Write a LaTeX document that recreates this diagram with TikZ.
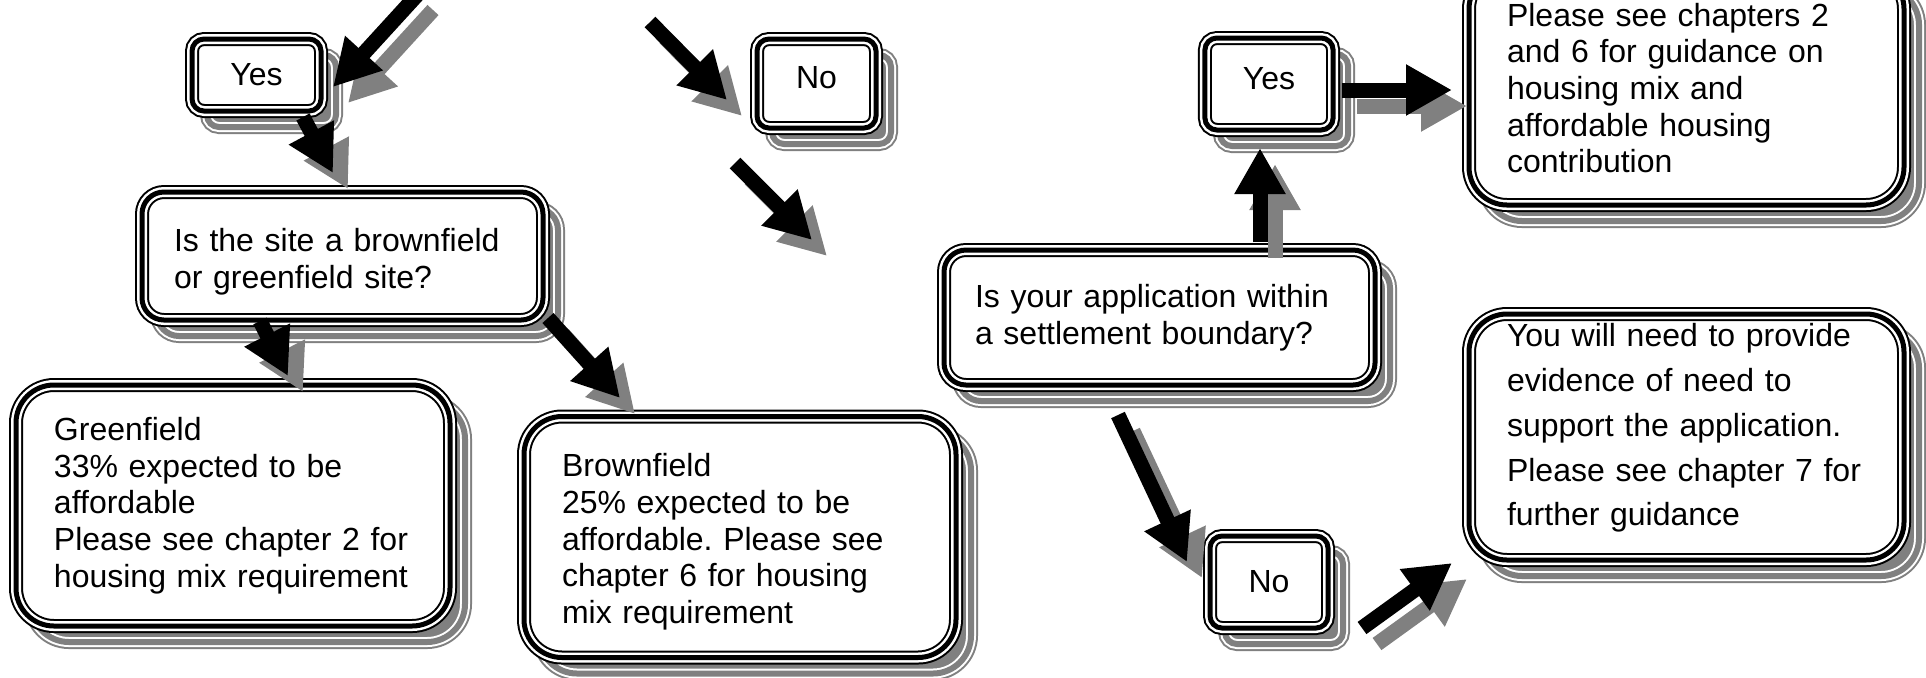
\documentclass[tikz,border=0pt]{standalone}
\usepackage{fontspec}
\setmainfont{Liberation Sans}
\frenchspacing
\usetikzlibrary{arrows.meta}

\tikzset{
  panel/.style={rectangle, rounded corners=#1, align=left, inner xsep=19pt, inner ysep=0pt,
    font=\fontsize{16pt}{18.35pt}\selectfont,
    preaction={fill=gray, draw=gray, line width=7pt, transform canvas={shift={(7.5pt,-8pt)}}},
    preaction={draw=white, line width=5pt, transform canvas={shift={(7.5pt,-8pt)}}},
    preaction={draw=gray, line width=3pt, transform canvas={shift={(7.5pt,-8pt)}}},
    preaction={fill=white},
    preaction={draw=black, line width=7pt},
    preaction={draw=white, line width=5pt},
    draw=black, line width=2.5pt},
  panel/.default=19pt,
  flow/.style={draw=black, line width=7.5pt, -{Triangle[width=24pt,length=23pt]}},
  flowshade/.style={flow, draw=gray, fill=gray},
}

\begin{document}
\begin{tikzpicture}[x=0.5pt, y=-0.5pt]
  \useasboundingbox (0,0) rectangle (1926,677);
  \clip (0,0) rectangle (1926,677);

  % left branch
  \node[panel=6pt, align=center, minimum width=64.5pt, minimum height=36pt] (yes1) at (256.5,75) {Yes};
  \node[panel=11pt, inner xsep=16pt, text width=168.5pt, text height=17pt, minimum width=200.5pt, minimum height=64pt]
    (site) at (342.5,256) {Is the site a brownfield\\or greenfield site?};
  \node[panel, text width=179pt, minimum width=217pt, minimum height=120.5pt] (green) at (233,505.5)
    {Greenfield\\33\% expected to be\\affordable\\Please see chapter 2 for\\housing mix requirement};
  \node[panel, text width=178pt, text height=16.5pt, minimum width=216pt, minimum height=120.5pt] (brown) at (740,537)
    {Brownfield\\25\% expected to be\\affordable. Please see\\chapter 6 for housing\\mix requirement};
  \node[panel=6pt, align=center, text depth=6pt, minimum width=59.5pt, minimum height=44.5pt] (no1) at (816.5,83.5) {No};

  % right branch
  \node[panel=11pt, inner xsep=15.5pt, text width=184.5pt, minimum width=215.5pt, minimum height=67.5pt]
    (settle) at (1159.5,317.5) {Is your application within\\a settlement boundary?};
  \node[panel=6pt, align=center, text depth=6pt, minimum width=59pt, minimum height=46pt] (yes2) at (1269,84) {Yes};
  \node[panel, text width=179.5pt, minimum width=217.5pt, minimum height=117pt] (advice) at (1686.5,88)
    {Please see chapters 2\\and 6 for guidance on\\housing mix and\\affordable housing\\contribution};
  \node[panel=6pt, align=center, minimum width=59pt, minimum height=46pt] (no2) at (1269,582) {No};
  \node[panel, text width=179.5pt, text depth=102pt, minimum width=217.5pt, minimum height=123pt,
    font=\fontsize{16pt}{22.4pt}\selectfont] (evidence) at (1686.5,437)
    {You will need to provide\\evidence of need to\\support the application.\\Please see chapter 7 for\\further guidance};

  % arrow ends
  \coordinate (yes1in)   at (418,-6);   \coordinate (yes1tip)  at (333,87);
  \coordinate (yes1out)  at (303,117);  \coordinate (sitetip)  at (333,173);
  \coordinate (siteL)    at (260,321);  \coordinate (greentip) at (288,376);
  \coordinate (siteR)    at (548,318);  \coordinate (browntip) at (620,398);
  \coordinate (no1in)    at (650,22);   \coordinate (no1tip)   at (727,100);
  \coordinate (no1out)   at (735,163);  \coordinate (no1end)   at (812,240);
  \coordinate (settleU)  at (1260,242); \coordinate (yes2tip)  at (1260,148);
  \coordinate (yes2out)  at (1342,90);  \coordinate (advtip)   at (1452,90);
  \coordinate (settleD)  at (1118,415); \coordinate (no2tip)   at (1187,562);
  \coordinate (no2out)   at (1362,628); \coordinate (evtip)    at (1452,563);

  \foreach \from/\to in {yes1in/yes1tip, yes1out/sitetip, siteL/greentip, siteR/browntip,
      no1in/no1tip, no1out/no1end, settleU/yes2tip, yes2out/advtip, settleD/no2tip, no2out/evtip} {
    \draw[flowshade] ([shift={(15,16)}]\from) -- ([shift={(15,16)}]\to);
    \draw[flow] (\from) -- (\to);
  }
\end{tikzpicture}
\end{document}
